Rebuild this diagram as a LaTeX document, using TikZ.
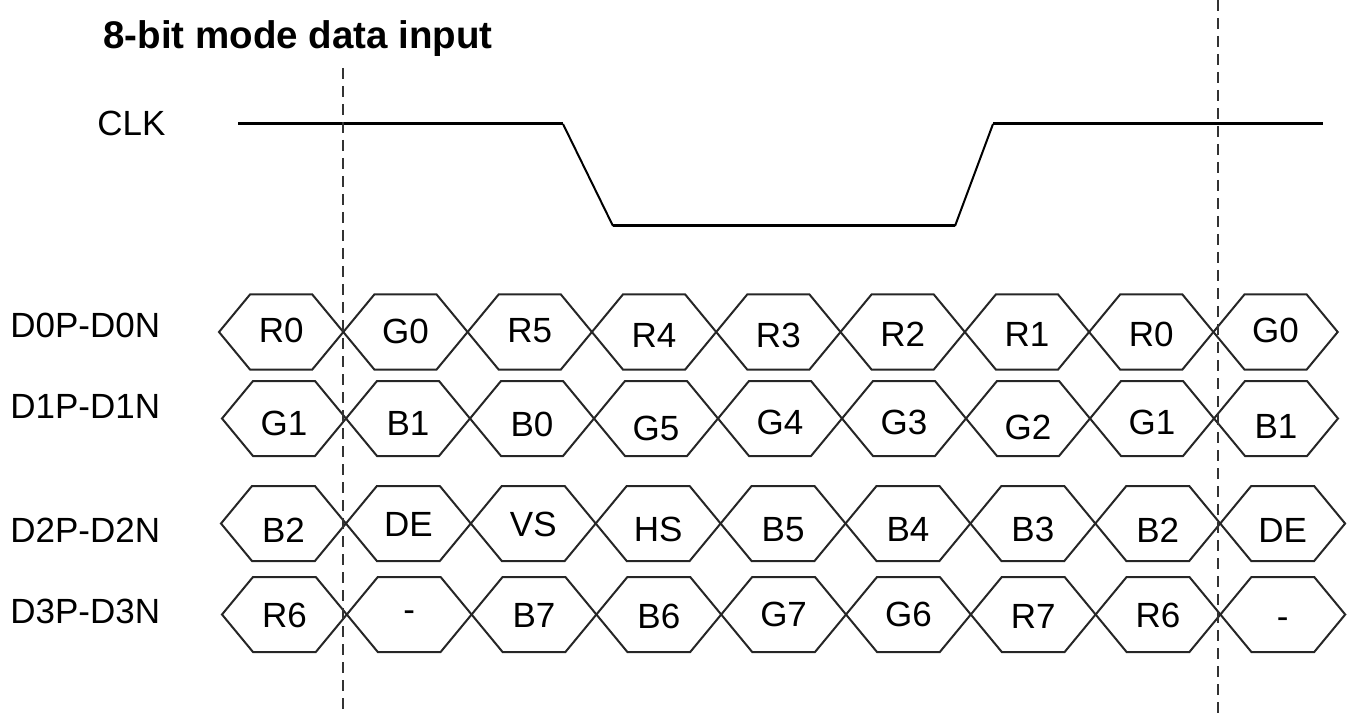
\documentclass[tikz,border=0pt]{standalone}
\usepackage{fontspec}
\setmainfont{Liberation Sans}
\begin{document}
\begin{tikzpicture}[x=0.5pt,y=-0.5pt,
  hexline/.style={draw=black!85,line width=1pt,line join=miter},
  cell/.style={inner sep=0pt,font=\fontsize{17.5}{20}\selectfont,text height=12.5pt,text depth=0pt},
  siglabel/.style={cell,anchor=west},
  clklevel/.style={line width=1.5pt},
  clkedge/.style={line width=1pt},
  guide/.style={draw=black!80,line width=1.2pt,dash pattern=on 5.5pt off 3.5pt}]
\useasboundingbox (0,0) rectangle (1352,716);

% title and labels
\node[anchor=west,inner sep=0pt,font=\bfseries\fontsize{19.25}{22}\selectfont,text height=13.8pt,text depth=0pt] (title) at (103,35) {8-bit mode data input};
\node[siglabel] (clk) at (97,123.5) {CLK};
\node[siglabel] (lab0) at (10,324.5) {D0P-D0N};
\node[siglabel] (lab1) at (10,405.5) {D1P-D1N};
\node[siglabel] (lab2) at (10,529.5) {D2P-D2N};
\node[siglabel] (lab3) at (10,610.5) {D3P-D3N};

% clock waveform
\coordinate (c0) at (238,124);
\coordinate (c1) at (563,124);
\coordinate (c2) at (613,226);
\coordinate (c3) at (955,226);
\coordinate (c4) at (993,124);
\coordinate (c5) at (1323,124);
\draw[clklevel] (c0) -- (c1);
\draw[clkedge] (c1) -- (c2);
\draw[clklevel] (c2) -- (c3);
\draw[clkedge] (c3) -- (c4);
\draw[clklevel] (c4) -- (c5);

% row 0
\foreach \i/\t/\ty in {0/R0/330,1/G0/331,2/R5/330,3/R4/334.5,4/R3/334.5,5/R2/333.5,6/R1/333.5,7/R0/333.5,8/G0/330.5}{
  \pgfmathsetmacro{\xa}{219+\i*124.3}
  \pgfmathsetmacro{\xb}{219+(\i+1)*124.3}
  \draw[hexline] (\xa,332) -- (\xa+31,294.5) -- (\xb-31,294.5) -- (\xb,332) -- (\xb-31,369.5) -- (\xa+31,369.5) -- cycle;
  \node[cell] (d0-\i) at ({(\xa+\xb)/2},\ty) {\t};
}
% row 1
\foreach \i/\t/\ty in {0/G1/423,1/B1/423,2/B0/424,3/G5/427.5,4/G4/422,5/G3/422,6/G2/427,7/G1/422,8/B1/426}{
  \pgfmathsetmacro{\xa}{222+\i*124}
  \pgfmathsetmacro{\xb}{222+(\i+1)*124}
  \draw[hexline] (\xa,418.5) -- (\xa+31,381) -- (\xb-31,381) -- (\xb,418.5) -- (\xb-31,456) -- (\xa+31,456) -- cycle;
  \node[cell] (d1-\i) at ({(\xa+\xb)/2},\ty) {\t};
}
% row 2
\foreach \i/\t/\ty in {0/B2/530,1/DE/523.5,2/VS/523.5,3/HS/528.5,4/B5/528.5,5/B4/528.5,6/B3/528.5,7/B2/530,8/DE/530}{
  \pgfmathsetmacro{\xa}{221+\i*124.9}
  \pgfmathsetmacro{\xb}{221+(\i+1)*124.9}
  \draw[hexline] (\xa,523.5) -- (\xa+31,486) -- (\xb-31,486) -- (\xb,523.5) -- (\xb-31,561) -- (\xa+31,561) -- cycle;
  \node[cell] (d2-\i) at ({(\xa+\xb)/2},\ty) {\t};
}
% row 3
\foreach \i/\t/\ty in {0/R6/615,1/-/609,2/B7/615,3/B6/616,4/G7/614,5/G6/614,6/R7/616,7/R6/615,8/-/616}{
  \pgfmathsetmacro{\xa}{222+\i*124.8}
  \pgfmathsetmacro{\xb}{222+(\i+1)*124.8}
  \draw[hexline] (\xa,614.5) -- (\xa+31,577) -- (\xb-31,577) -- (\xb,614.5) -- (\xb-31,652) -- (\xa+31,652) -- cycle;
  \node[cell] (d3-\i) at ({(\xa+\xb)/2},\ty) {\t};
}

% dashed guides
\coordinate (g1t) at (343,68);
\coordinate (g1b) at (343,716);
\coordinate (g2t) at (1218,0);
\coordinate (g2b) at (1218,716);
\draw[guide] (g1t) -- (g1b);
\draw[guide] (g2t) -- (g2b);
\end{tikzpicture}
\end{document}
